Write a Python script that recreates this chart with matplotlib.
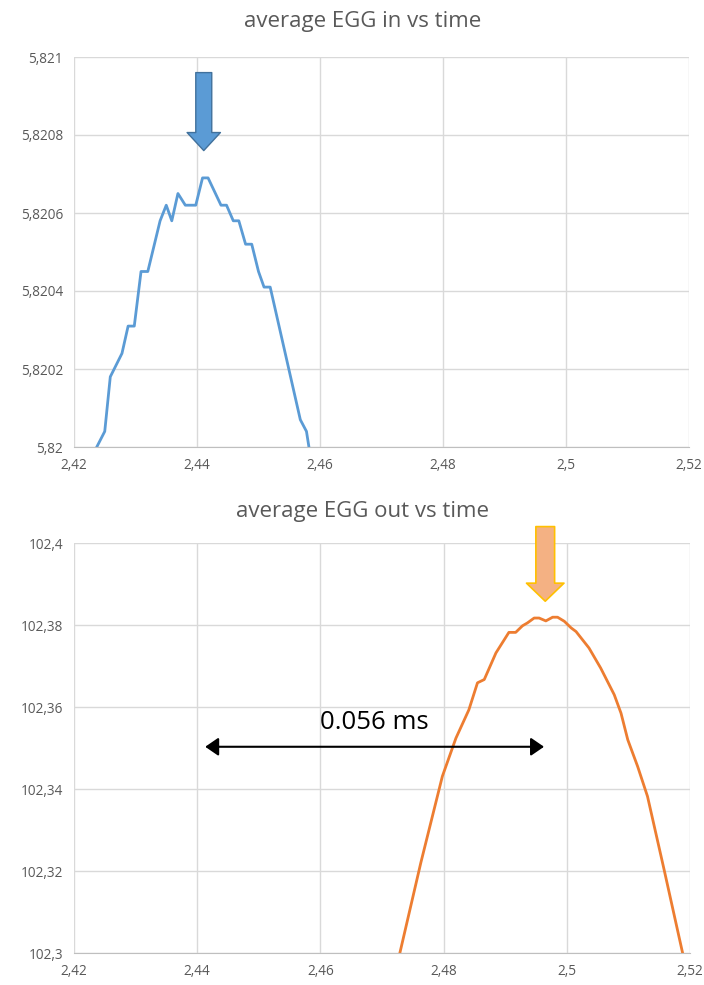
import numpy as np
import matplotlib.pyplot as plt
from matplotlib.ticker import FuncFormatter

plt.rcParams['font.family'] = ['Open Sans', 'DejaVu Sans']

# time axis shared by both panels (ms)
time_ticks = [2.42, 2.44, 2.46, 2.48, 2.5, 2.52]

# average EGG in
t_in = [2.4237, 2.4250, 2.4259, 2.4278, 2.4288, 2.4298, 2.4309, 2.4320,
        2.4340, 2.4350, 2.4359, 2.4369, 2.4381, 2.4398, 2.4409, 2.4418,
        2.4439, 2.4448, 2.4459, 2.4468, 2.4479, 2.4489, 2.4500, 2.4509,
        2.4519, 2.4568, 2.4578, 2.4582]
egg_in = [5.82000, 5.82004, 5.82018, 5.82024, 5.82031, 5.82031, 5.82045, 5.82045,
          5.82058, 5.82062, 5.82058, 5.82065, 5.82062, 5.82062, 5.82069, 5.82069,
          5.82062, 5.82062, 5.82058, 5.82058, 5.82052, 5.82052, 5.82045, 5.82041,
          5.82041, 5.82007, 5.82004, 5.82000]
in_ticks = [5.82, 5.8202, 5.8204, 5.8206, 5.8208, 5.821]

# average EGG out
t_out = [2.4729, 2.4763, 2.4798, 2.4820, 2.4841, 2.4855, 2.4866, 2.4885,
         2.4906, 2.4917, 2.4928, 2.4936, 2.4947, 2.4955, 2.4966, 2.4977,
         2.4985, 2.4996, 2.5007, 2.5015, 2.5036, 2.5055, 2.5077, 2.5088,
         2.5099, 2.5115, 2.5131, 2.5158, 2.5188]
egg_out = [102.3000, 102.3220, 102.3431, 102.3524, 102.3593, 102.3659, 102.3667, 102.3732,
           102.3782, 102.3782, 102.3798, 102.3805, 102.3817, 102.3817, 102.3810, 102.3819,
           102.3819, 102.3809, 102.3793, 102.3784, 102.3744, 102.3695, 102.3630, 102.3585,
           102.3520, 102.3455, 102.3382, 102.3203, 102.3000]
out_ticks = [102.3, 102.32, 102.34, 102.36, 102.38, 102.4]

# annotation positions
in_peak_t = 2.4411
out_peak_t = 2.4965
gap_start, gap_end, gap_level = 2.4413, 2.4963, 102.3503
gap_label = '0.056 ms'

W, H = 704, 985
fig = plt.figure(figsize=(W / 100, H / 100), dpi=100)
ax1 = fig.add_axes([74 / W, 1 - 447 / H, 615 / W, 390 / H])
ax2 = fig.add_axes([74 / W, 1 - 953 / H, 616 / W, 410 / H])

comma = FuncFormatter(lambda v, p: '{:g}'.format(round(v, 6)).replace('.', ','))


def style(ax, yticks, title, title_y):
    ax.set_xlim(time_ticks[0], time_ticks[-1])
    ax.set_ylim(yticks[0], yticks[-1])
    ax.set_xticks(time_ticks)
    ax.set_yticks(yticks)
    ax.xaxis.set_major_formatter(comma)
    ax.yaxis.set_major_formatter(comma)
    ax.grid(True, color='#d9d9d9', lw=1)
    ax.set_axisbelow(True)
    for s in ['top', 'right', 'left']:
        ax.spines[s].set_visible(False)
    ax.spines['bottom'].set_color('#bfbfbf')
    ax.tick_params(length=0, colors='#595959', labelsize=9.8, pad=8)
    fig.text(363 / W, 1 - title_y / H, title, ha='center', va='center',
             fontsize=16, color='#595959')


ax1.plot(t_in, egg_in, color='#5b9bd5', lw=2)
style(ax1, in_ticks, 'average EGG in vs time', 22)
ax1.annotate('', xy=(in_peak_t, 5.82076), xytext=(in_peak_t, 5.82096),
             arrowprops=dict(arrowstyle='simple,head_length=1.3,head_width=2.4,tail_width=1.15',
                             fc='#5b9bd5', ec='#41719c', lw=1, shrinkA=0, shrinkB=0,
                             mutation_scale=10))

ax2.plot(t_out, egg_out, color='#ed7d31', lw=2)
style(ax2, out_ticks, 'average EGG out vs time', 511)
ax2.annotate('', xy=(out_peak_t, 102.3858), xytext=(out_peak_t, 102.4040),
             annotation_clip=False,
             arrowprops=dict(arrowstyle='simple,head_length=1.3,head_width=2.7,tail_width=1.35',
                             fc='#f4b183', ec='#ffc000', lw=1.2, shrinkA=0, shrinkB=0,
                             mutation_scale=10))
ax2.annotate('', xy=(gap_end, gap_level), xytext=(gap_start, gap_level),
             arrowprops=dict(arrowstyle='<|-|>,head_length=0.8,head_width=0.55',
                             color='black', lw=1.5, shrinkA=0, shrinkB=0,
                             mutation_scale=10))
ax2.text((gap_start + gap_end) / 2, gap_level + 0.0058, gap_label, ha='center',
         va='center', fontsize=18.5, color='black')

fig.savefig('out.png', dpi=100)
